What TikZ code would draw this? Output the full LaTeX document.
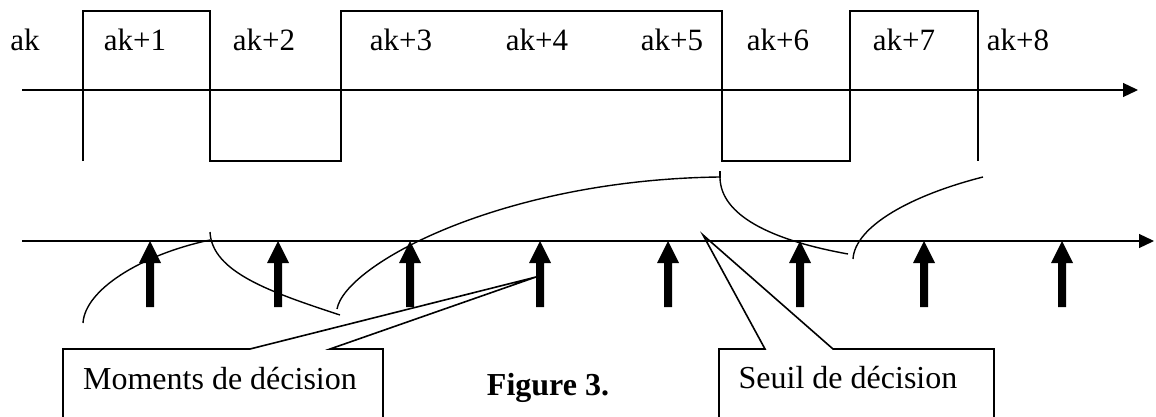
\documentclass[tikz,border=0pt]{standalone}
\usepackage{fontspec}
\setmainfont{Liberation Serif}
\usetikzlibrary{arrows.meta}
\begin{document}
\begin{tikzpicture}[x=0.5pt,y=-0.5pt,
  axis/.style={line width=0.6pt,-{Triangle[length=7.5pt,width=7pt]}},
  wave/.style={line width=0.8pt},
  curve/.style={line width=0.7pt},
  callout/.style={line width=0.8pt},
  lab/.style={anchor=base,inner sep=0pt,font=\fontsize{15.5}{18}\selectfont},
  blab/.style={anchor=base,inner sep=0pt,font=\fontsize{16}{19}\selectfont},
  figlab/.style={anchor=base,inner sep=0pt,font=\fontsize{16}{19}\selectfont\bfseries}]
\useasboundingbox (0,0) rectangle (1156,417);
% top signal
\coordinate (a1s) at (22,90);
\coordinate (a1e) at (1138,90);
\draw[axis] (a1s) -- (a1e);
\draw[wave] (83,161) -- (83,11) -- (210,11) -- (210,161) -- (341,161) -- (341,11)
  -- (722,11) -- (722,161) -- (850,161) -- (850,11) -- (978,11) -- (978,161);
\node[lab] (l0) at (25,51) {ak};
\node[lab] (l1) at (135,51) {ak+1};
\node[lab] (l2) at (264,51) {ak+2};
\node[lab] (l3) at (401,51) {ak+3};
\node[lab] (l4) at (537,51) {ak+4};
\node[lab] (l5) at (672,51) {ak+5};
\node[lab] (l6) at (778,51) {ak+6};
\node[lab] (l7) at (904,51) {ak+7};
\node[lab] (l8) at (1018,51) {ak+8};
% lower axis
\coordinate (a2s) at (22,241);
\coordinate (a2e) at (1154,241);
\draw[axis] (a2s) -- (a2e);
% decision arrows
\foreach \x in {150,278,410,540,668,800,924,1062}
  \fill (\x,241) -- (\x+11,263) -- (\x+4,263) -- (\x+4,307) -- (\x-4,307)
    -- (\x-4,263) -- (\x-11,263) -- cycle;
% curves
\draw[curve] (83,323) .. controls (85,290) and (140,255) .. (210,240);
\draw[curve] (210,232) .. controls (212,272) and (270,292) .. (340,315);
\draw[curve] (337,309) .. controls (345,265) and (500,180) .. (719,177);
\draw[curve] (720,171) -- (720,178);
\draw[curve] (720,178) .. controls (721,215) and (770,240) .. (848,254);
\draw[curve] (853,259) .. controls (855,226) and (912,195) .. (983,177);
% callouts
\coordinate (tipm) at (536,277);
\coordinate (tips) at (703,235);
\draw[callout] (63,417) -- (63,349) -- (250,349) -- (tipm) -- (330,349) -- (383,349) -- (383,417);
\draw[callout] (719,417) -- (719,349) -- (765,349) -- (tips) -- (833,349) -- (994,349) -- (994,417);
\node[blab] (moments) at (220,389) {Moments de décision};
\node[blab] (seuil) at (848,388) {Seuil de décision};
\node[figlab] (fig) at (548,395) {Figure 3.};
\end{tikzpicture}
\end{document}
